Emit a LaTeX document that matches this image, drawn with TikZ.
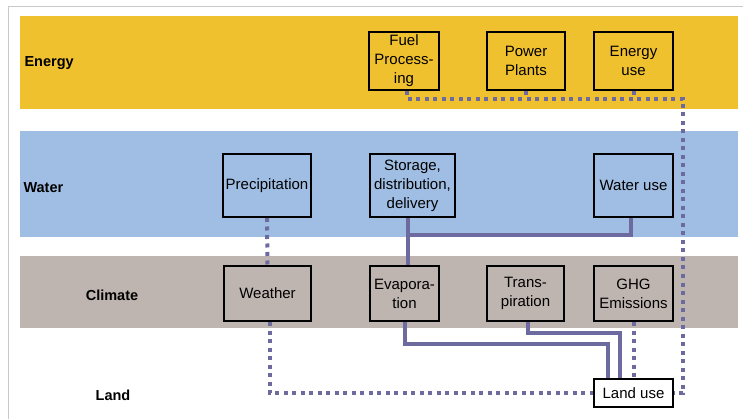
\documentclass[tikz,border=0pt]{standalone}
\usepackage{fontspec}
\setmainfont{Liberation Sans}
\usepackage{tikz}
\usepackage{xcolor}
\definecolor{energyband}{RGB}{240,193,47}
\definecolor{waterband}{RGB}{160,190,227}
\definecolor{climateband}{RGB}{190,180,176}
\definecolor{linkviolet}{RGB}{108,106,158}
\definecolor{framegray}{RGB}{200,200,205}
\usetikzlibrary{positioning}

\tikzset{
	sector/.style={font=\fontsize{14.5}{17}\selectfont\bfseries, text=black},
	box/.style={
		draw=black,          % black border
		line width=2pt,      % border thickness
		text=black,          % black text
		rectangle,           % shape
		inner sep=1pt,       % padding
		align=center,
		font=\fontsize{15}{19}\selectfont
	},
	solidlink/.style={draw=linkviolet, line width=4pt},
	dotlink/.style={draw=linkviolet, line width=4pt, dash pattern=on 4pt off 4.5pt}
}

\begin{document}
\begin{tikzpicture}[x=1pt, y=-1pt]
	\useasboundingbox (0,0) rectangle (743,419);
	% frame and sector bands
	\draw[framegray, line width=0.8pt] (8,419) -- (8,6) -- (743,6);
	\fill[energyband] (20,16) rectangle (738,109);
	\fill[waterband] (20,131) rectangle (738,237);
	\fill[climateband] (20,256) rectangle (738,328);

	% sector labels
	\node[sector, anchor=west] (energy) at (21,63) {Energy};
	\node[sector, anchor=west] (water) at (20,188) {Water};
	\node[sector] (climate) at (112,295) {Climate};
	\node[sector] (land) at (113,395) {Land};

	% energy row
	\node[box, fill=energyband, minimum width=70, minimum height=58] (fuel) at (404,61) {Fuel\\Process-\\ing};
	\node[box, fill=energyband, minimum width=78, minimum height=58] (power) at (526,61) {Power\\Plants};
	\node[box, fill=energyband, minimum width=79, minimum height=58] (euse) at (633.5,61) {Energy\\use};

	% water row
	\node[box, fill=waterband, minimum width=88, minimum height=63] (precip) at (267,185.5) {Precipitation};
	\node[box, fill=waterband, minimum width=85, minimum height=63] (storage) at (412.5,185.5) {Storage,\\distribution,\\delivery};
	\node[box, fill=waterband, minimum width=79, minimum height=63] (wateruse) at (633.5,185.5) {Water use};

	% climate row
	\node[box, fill=climateband, minimum width=87, minimum height=55] (weather) at (267.5,293.5) {Weather};
	\node[box, fill=climateband, minimum width=69, minimum height=55] (evap) at (404.5,293.5) {Evapora-\\tion};
	\node[box, fill=climateband, minimum width=77, minimum height=55] (trans) at (525.5,293.5) {Trans-\\piration};
	\node[box, fill=climateband, minimum width=79, minimum height=55] (ghg) at (633.5,293.5) {GHG\\Emissions};

	% land row
	\node[box, fill=white, minimum width=79, minimum height=28] (landuse) at (633.5,393) {Land use};

	% dotted links
	\coordinate (ebus) at (683,99);
	\draw[dotlink] ([xshift=3pt]fuel.south) |- (ebus) |- (landuse.east);
	\draw[dotlink] (power.south) -- (power.south |- ebus);
	\draw[dotlink] (euse.south) -- (euse.south |- ebus);
	\draw[dotlink] (precip.south) -- (weather.north);
	\draw[dotlink] ([xshift=2pt]weather.south) |- (landuse.west);
	\draw[dotlink] (ghg.south) -- (landuse.north);

	% solid links
	\coordinate (wjoin) at (408,235);
	\draw[solidlink] (wjoin |- storage.south) -- (wjoin |- evap.north);
	\draw[solidlink] ([xshift=-3pt]wateruse.south) |- (wjoin);
	\draw[solidlink] (evap.south) -- ++(0,22) -| ([xshift=-26pt]landuse.north);
	\draw[solidlink] ([xshift=2.5pt]trans.south) -- ++(0,11) -| ([xshift=-14pt]landuse.north);
\end{tikzpicture}
\end{document}
